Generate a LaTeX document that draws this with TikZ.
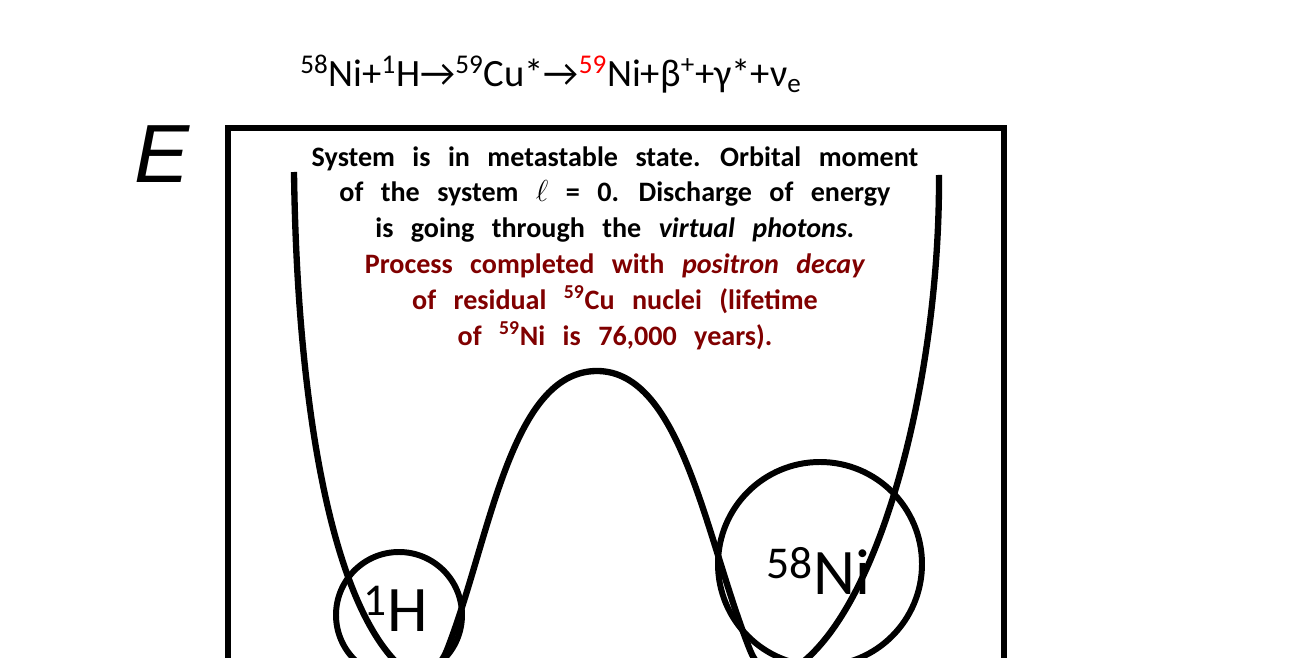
\documentclass[tikz,border=0pt]{standalone}
\usepackage{fontspec}
\usepackage{xcolor}
\usepackage{tikz}
\usetikzlibrary{positioning}
\setmainfont{Carlito}
\newfontfamily\axisfont{Liberation Sans}
\definecolor{decayred}{RGB}{128,0,0}
\definecolor{isored}{RGB}{255,0,0}
\newcommand\widespacing{\spaceskip=0.62em\relax}

\tikzset{
    well/.style={line width=3.6pt, line join=round},
    atom/.style={draw, circle, line width=3.4pt, inner sep=0pt},
    atomlabel/.style={inner sep=0pt, font=\fontsize{37}{37}\selectfont},
    frame/.style={line width=3.4pt},
}

\begin{document}
\begin{tikzpicture}[x=0.02cm, y=-0.02cm]
    \useasboundingbox (0,0) rectangle (1292,658);
    \clip (0,0) rectangle (1292,658);

    % box round the potential
    \draw[frame] (228,700) |- (1004,128) -- (1004,700);

    % axis label and reaction
    \node[inner sep=0pt, font=\axisfont\fontsize{47}{47}\selectfont\itshape] (energy) at (162,154) {E};
    \node[anchor=base west, inner sep=0pt, font=\fontsize{22}{22}\selectfont] (reaction) at (300,87)
        {\textsuperscript{58}Ni+\textsuperscript{1}H→\textsuperscript{59}Cu*→\textsuperscript{\textcolor{isored}{59}}Ni+β\textsuperscript{+}+γ*+ν\textsubscript{e}};

    % double well
    \draw[well] (294,172) .. controls (297,400) and (330,600) .. (400,666)
        .. controls (414,679) and (437,676) .. (447,650)
        .. controls (490,540) and (510,371) .. (597,371)
        .. controls (682,371) and (706,540) .. (750,650)
        .. controls (760,675) and (778,680) .. (795,668)
        .. controls (880,610) and (940,380) .. (939,175);

    % nuclei
    \node[atom, minimum size=126*0.02cm] (hydrogen) at (399,615) {};
    \node[atom, minimum size=204*0.02cm] (nickel) at (820,564) {};
    \node[atomlabel, anchor=base west] (hlabel) at (363,631) {\textsuperscript{1}H};
    \node[atomlabel, anchor=base west] (nilabel) at (766,594) {\textsuperscript{58}Ni};

    % explanation
    \node[anchor=north, align=center, inner sep=0pt,
          font=\bfseries\fontsize{16}{20.4}\selectfont\widespacing] (note) at (615,146)
        {System is in metastable state. Orbital moment\\
         of the system \(\ell\) = 0. Discharge of energy\\
         is going through the \textit{virtual photons.}\\
         \textcolor{decayred}{Process completed with \textit{positron decay}}\\
         \textcolor{decayred}{of residual \textsuperscript{59}Cu nuclei (lifetime}\\
         \textcolor{decayred}{of \textsuperscript{59}Ni is 76,000 years).}};
\end{tikzpicture}
\end{document}
